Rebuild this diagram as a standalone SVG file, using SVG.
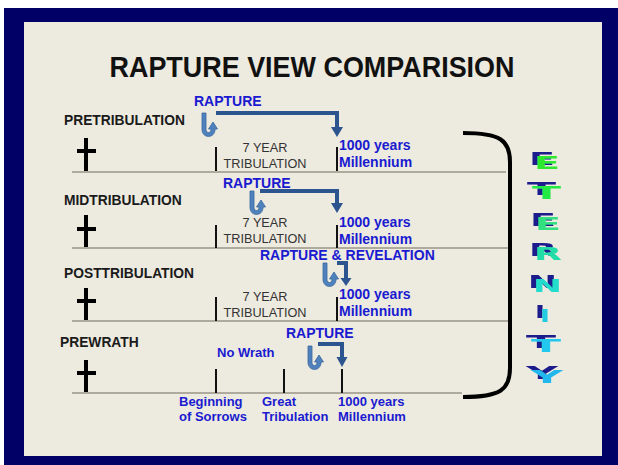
<svg xmlns="http://www.w3.org/2000/svg" width="618" height="465" viewBox="0 0 618 465">
<defs>
<style>
.lbl{font-family:"Liberation Sans",Arial,sans-serif;font-weight:bold;font-size:13.8px;fill:#1a1a1a}
.trib{font-family:"Liberation Sans",Arial,sans-serif;font-size:12.7px;fill:#333;text-anchor:middle}
.blue{font-family:"Liberation Sans",Arial,sans-serif;font-weight:bold;font-size:14px;fill:#1a1ad0}
.blue13{font-family:"Liberation Sans",Arial,sans-serif;font-weight:bold;font-size:13px;fill:#1a1ad0}
.tl{stroke:#aeaa9e;stroke-width:2;fill:none}
.tick{stroke:#111;stroke-width:2}
.cross{stroke:#000;stroke-width:4;fill:none}
.conn{stroke:#2c5590;stroke-width:4;fill:none;stroke-linejoin:miter}
.head{fill:#2c5590}
.uturn{fill:#4f81bd;stroke:#3a68a0;stroke-width:0.8}
.et{font-family:"DejaVu Sans",sans-serif;font-weight:bold;font-size:18px;filter:url(#sh)}
</style>
<filter id="sh" x="-50%" y="-50%" width="200%" height="200%">
<feOffset in="SourceAlpha" dx="-5" dy="-4" result="o"/>
<feFlood flood-color="#1c1c8c"/>
<feComposite in2="o" operator="in" result="s"/>
<feMerge><feMergeNode in="s"/><feMergeNode in="SourceGraphic"/></feMerge>
</filter>
<path id="u" d="M0,0 H4 V17 A2.5,2.5 0 0 0 9,17 V16 H6.5 L11,9 L15.5,16 H13 V17 A6.5,6.5 0 0 1 0,17 Z"/>
</defs>
<rect x="0" y="0" width="618" height="465" fill="#fff"/>
<rect x="4" y="8" width="614" height="457" fill="#000066"/>
<rect x="24" y="22" width="578" height="434" fill="#edeadf"/>
<text x="312" y="77" text-anchor="middle" textLength="405" lengthAdjust="spacingAndGlyphs" font-family="'Liberation Sans',Arial,sans-serif" font-weight="bold" font-size="30" fill="#111">RAPTURE VIEW COMPARISION</text>

<g id="timelines">
<line class="tl" x1="72" y1="172" x2="506" y2="172"/>
<line class="tl" x1="72" y1="248" x2="509" y2="248"/>
<line class="tl" x1="72" y1="321" x2="509" y2="321"/>
<line class="tl" x1="72" y1="393" x2="462" y2="393"/>
</g>

<g id="pretribulation">
<text class="lbl" x="64" y="125">PRETRIBULATION</text>
<path class="cross" d="M86,138 V171 M77,151 H96"/>
<line class="tick" x1="216" y1="147" x2="216" y2="171"/>
<line class="tick" x1="337" y1="147" x2="337" y2="171"/>
<text class="trib" x="265" y="152">7 YEAR</text>
<text class="trib" x="265" y="168">TRIBULATION</text>
<text class="blue" x="339" y="150">1000 years</text>
<text class="blue" x="339" y="167">Millennium</text>
<text class="blue" x="194" y="106">RAPTURE</text>
</g>

<g id="midtribulation">
<text class="lbl" x="64" y="205">MIDTRIBULATION</text>
<path class="cross" d="M86,215 V247 M77,229 H96"/>
<line class="tick" x1="216" y1="225" x2="216" y2="248"/>
<line class="tick" x1="337" y1="225" x2="337" y2="248"/>
<text class="trib" x="265" y="227">7 YEAR</text>
<text class="trib" x="265" y="243">TRIBULATION</text>
<text class="blue" x="339" y="227">1000 years</text>
<text class="blue" x="339" y="244">Millennium</text>
<text class="blue" x="223" y="188">RAPTURE</text>
</g>

<g id="posttribulation">
<text class="lbl" x="64" y="278">POSTTRIBULATION</text>
<path class="cross" d="M86,288 V320 M77,301 H96"/>
<line class="tick" x1="216" y1="297" x2="216" y2="321"/>
<line class="tick" x1="337" y1="297" x2="337" y2="321"/>
<text class="trib" x="265" y="301">7 YEAR</text>
<text class="trib" x="265" y="317">TRIBULATION</text>
<text class="blue" x="339" y="299">1000 years</text>
<text class="blue" x="339" y="316">Millennium</text>
<text class="blue" x="260" y="260">RAPTURE &amp; REVELATION</text>
</g>

<g id="prewrath">
<text class="lbl" x="60" y="347">PREWRATH</text>
<path class="cross" d="M86,360 V392 M77,373 H96"/>
<line class="tick" x1="216" y1="369" x2="216" y2="393"/>
<line class="tick" x1="284" y1="369" x2="284" y2="393"/>
<line class="tick" x1="342" y1="369" x2="342" y2="393"/>
<text class="blue13" x="217" y="357">No Wrath</text>
<text class="blue" x="286" y="338">RAPTURE</text>
<text class="blue13" x="179" y="406">Beginning</text>
<text class="blue13" x="179" y="421">of Sorrows</text>
<text class="blue13" x="262" y="406">Great</text>
<text class="blue13" x="262" y="421">Tribulation</text>
<text class="blue13" x="338" y="406">1000 years</text>
<text class="blue13" x="338" y="421">Millennium</text>
</g>

<g id="connectors">
<path class="conn" d="M216,113 H337 V128"/>
<polygon class="head" points="331,127 343,127 337,137"/>
<use href="#u" class="uturn" x="202" y="113"/>
<path class="conn" d="M260,191 H337 V204"/>
<polygon class="head" points="331,203 343,203 337,213"/>
<use href="#u" class="uturn" x="250" y="191"/>
<path class="conn" d="M337,263 H346 V279"/>
<polygon class="head" points="340.5,278 351.5,278 346,286"/>
<use href="#u" class="uturn" x="323" y="263"/>
<path class="conn" d="M318,344 H342 V358"/>
<polygon class="head" points="336.5,357 347.5,357 342,367"/>
<use href="#u" class="uturn" x="308" y="346"/>
</g>

<g id="bracket">
<path d="M463,133 C500,133 510,140 510,162 V368 C510,390 500,397 463,397" fill="none" stroke="#000" stroke-width="4"/>
</g>

<g id="eternity">
<text class="et" x="534" y="169" textLength="26" lengthAdjust="spacingAndGlyphs" fill="#2ee82e">E</text>
<text class="et" x="532" y="199" textLength="29" lengthAdjust="spacingAndGlyphs" fill="#22ea44">T</text>
<text class="et" x="535" y="230" textLength="26" lengthAdjust="spacingAndGlyphs" fill="#30e080">E</text>
<text class="et" x="534" y="260" textLength="28" lengthAdjust="spacingAndGlyphs" fill="#22dda8">R</text>
<text class="et" x="533" y="292" textLength="29" lengthAdjust="spacingAndGlyphs" fill="#22dccc">N</text>
<text class="et" x="540" y="322" textLength="10" lengthAdjust="spacingAndGlyphs" fill="#22cce0">I</text>
<text class="et" x="531" y="352" textLength="30" lengthAdjust="spacingAndGlyphs" fill="#22c8ee">T</text>
<text class="et" x="531" y="383" textLength="32" lengthAdjust="spacingAndGlyphs" fill="#22b8ee">Y</text>
</g>
</svg>
